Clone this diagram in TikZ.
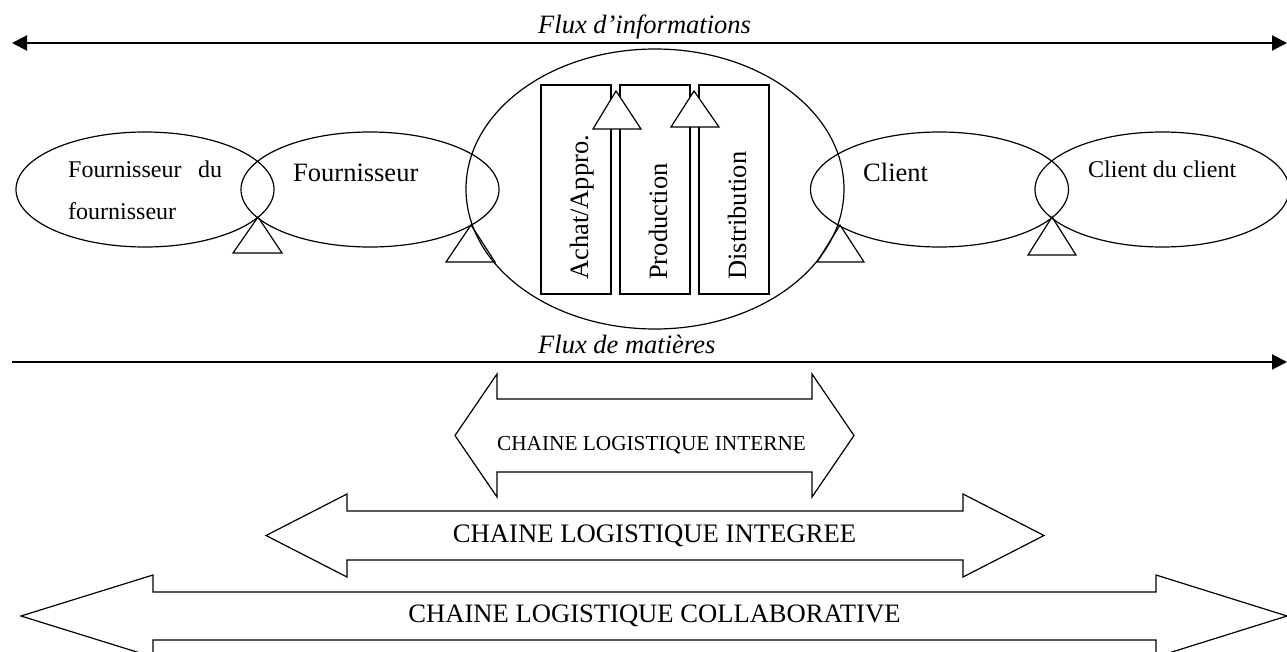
\documentclass[tikz,border=0pt]{standalone}
\usepackage{fontspec}
\setmainfont{Liberation Serif}
\usetikzlibrary{arrows.meta,shapes.geometric}
\begin{document}
\begin{tikzpicture}[x=1pt,y=-1pt,
  shp/.style={line width=1.2pt},
  flux/.style={line width=2pt},
  ell/.style={draw,ellipse,line width=1.2pt,inner sep=0pt,minimum width=258pt,minimum height=115pt},
  boxr/.style={draw,line width=1.2pt,inner sep=0pt,minimum width=70pt,minimum height=209pt},
  big/.style={font=\fontsize{26.5}{30}\selectfont,inner sep=0pt,anchor=base west},
  small/.style={font=\fontsize{24}{28}\selectfont,inner sep=0pt,anchor=base west},
  fluxlbl/.style={font=\fontsize{26.5}{30}\selectfont\itshape,inner sep=0pt,anchor=base west},
  blocklbl/.style={inner sep=0pt,anchor=base},
  tri/.style={line width=1.2pt},
  itri/.style={line width=1.2pt,fill=white}
]
\useasboundingbox (0,0) rectangle (1287,652);

% flux d'informations
\coordinate (fiL) at (12,43);
\coordinate (fiR) at (1287,43);
\draw[flux,{Triangle[length=15pt,width=15pt]}-{Triangle[length=15pt,width=15pt]}] (fiL) -- (fiR);
\node[fluxlbl] (tfi) at (538,34) {Flux d’informations};

% ellipses
\node[ell] (e1) at (145,189.5) {};
\node[ell] (e2) at (370,189.5) {};
\node[ell,minimum width=378pt,minimum height=280pt] (e3) at (655,189) {};
\node[ell] (e4) at (939.5,189.5) {};
\node[ell,minimum width=254pt] (e5) at (1162,189.5) {};

% labels in ellipses
\node[small] (t1a) at (68,178) {\hbox to 154pt{Fournisseur\hfill du}};
\node[small] (t1b) at (68,220) {fournisseur};
\node[big] (t2) at (293,182) {Fournisseur};
\node[big] (t4) at (863,182) {Client};
\node[small] (t5) at (1088,178) {Client du client};

% inner boxes
\node[boxr] (r1) at (576,189.5) {};
\node[boxr] (r2) at (655,189.5) {};
\node[boxr] (r3) at (734,189.5) {};
\node[big,rotate=90] (tr1) at (588,280) {Achat/Appro.};
\node[big,rotate=90] (tr2) at (667,280) {Production};
\node[big,rotate=90] (tr3) at (746,280) {Distribution};

% inner triangles
\draw[itri] (616,91) -- (641,129) -- (593,129) -- cycle;
\draw[itri] (694,91) -- (719,127) -- (671,127) -- cycle;

% outer triangles
\draw[tri] (258,217) -- (282,253) -- (233,253) -- cycle;
\draw[tri] (471,225) -- (495,262) -- (446,262) -- cycle;
\draw[tri] (840,225) -- (864,262) -- (817,262) -- cycle;
\draw[tri] (1052,217) -- (1076,255) -- (1028,255) -- cycle;

% flux de matieres
\coordinate (fmL) at (12,362);
\coordinate (fmR) at (1287,362);
\draw[flux,-{Triangle[length=15pt,width=15pt]}] (fmL) -- (fmR);
\node[fluxlbl] (tfm) at (538,353) {Flux de matières};

% block arrows
\draw[shp] (455,435.5) -- (497,374) -- (497,399) -- (812,399) -- (812,374) -- (854,435.5)
  -- (812,497) -- (812,472) -- (497,472) -- (497,497) -- cycle;
\node[blocklbl,font=\fontsize{21.3}{25}\selectfont] (ti) at (651.5,450) {CHAINE LOGISTIQUE INTERNE};

\draw[shp] (266,535.5) -- (347,494) -- (347,511) -- (963,511) -- (963,494) -- (1044,535.5)
  -- (963,577) -- (963,560) -- (347,560) -- (347,577) -- cycle;
\node[blocklbl,font=\fontsize{26.7}{30}\selectfont] (tg) at (654.5,542) {CHAINE LOGISTIQUE INTEGREE};

\draw[shp] (21,616) -- (153,575) -- (153,592) -- (1156,592) -- (1156,575) -- (1287,616)
  -- (1156,657) -- (1156,640) -- (153,640) -- (153,657) -- cycle;
\node[blocklbl,font=\fontsize{26.6}{30}\selectfont] (tc) at (654.5,622) {CHAINE LOGISTIQUE COLLABORATIVE};
\end{tikzpicture}
\end{document}
